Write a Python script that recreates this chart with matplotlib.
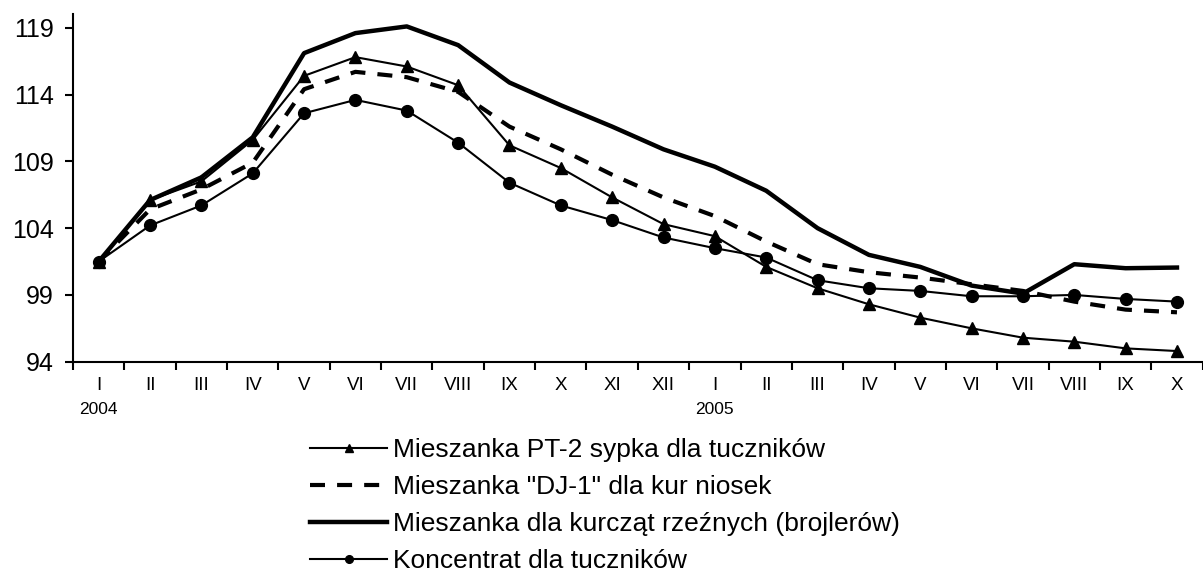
import matplotlib
matplotlib.use("Agg")
import matplotlib.pyplot as plt
import numpy as np

plt.rcParams['font.family'] = ['Liberation Sans', 'DejaVu Sans']

months = ["I", "II", "III", "IV", "V", "VI", "VII", "VIII", "IX", "X", "XI", "XII",
          "I", "II", "III", "IV", "V", "VI", "VII", "VIII", "IX", "X"]
years = {0: "2004", 12: "2005"}

pt2 = [101.5, 106.1, 107.5, 110.6, 115.4, 116.8, 116.1, 114.7, 110.2, 108.5, 106.3,
       104.3, 103.4, 101.1, 99.5, 98.3, 97.3, 96.5, 95.8, 95.5, 95.0, 94.8]
dj1 = [101.5, 105.4, 106.9, 108.9, 114.4, 115.7, 115.3, 114.2, 111.6, 109.9, 108.0,
       106.3, 104.9, 103.0, 101.3, 100.7, 100.3, 99.8, 99.3, 98.5, 97.9, 97.7]
broiler = [101.5, 106.1, 107.8, 110.8, 117.1, 118.6, 119.1, 117.7, 114.9, 113.2, 111.6,
           109.9, 108.6, 106.8, 104.0, 102.0, 101.1, 99.7, 99.1, 101.3, 101.0, 101.05]
koncentrat = [101.5, 104.2, 105.7, 108.1, 112.6, 113.6, 112.8, 110.4, 107.4, 105.7, 104.6,
              103.3, 102.5, 101.8, 100.1, 99.5, 99.3, 98.9, 98.9, 99.0, 98.7, 98.5]

labels = ['Mieszanka PT-2 sypka dla tuczników',
          'Mieszanka "DJ-1" dla kur niosek',
          'Mieszanka dla kurcząt rzeźnych (brojlerów)',
          'Koncentrat dla tuczników']

x = np.arange(len(months))

fig = plt.figure(figsize=(12.03, 5.76), dpi=100)
ax = fig.add_axes([0.0607, 0.372, 0.939, 0.603])

ax.plot(x, pt2, color='black', lw=1.5, marker='^', markersize=8.5, label=labels[0])
ax.plot(x, dj1, color='black', lw=3, linestyle=(0, (3.6, 2.9)), label=labels[1])
ax.plot(x, broiler, color='black', lw=3.2, label=labels[2])
ax.plot(x, koncentrat, color='black', lw=1.5, marker='o', markersize=8.5, label=labels[3])

ax.set_xlim(-0.5, len(months) - 0.5)
ax.set_ylim(94, 120)
ax.set_yticks([94, 99, 104, 109, 114, 119])
ax.tick_params(axis='y', labelsize=18, length=6, width=1.5, direction='out', pad=8)

ax.set_xticks(x)
ax.set_xticklabels(months, fontsize=13.5)
ax.tick_params(axis='x', which='major', length=0, pad=11)
ax.set_xticks(np.arange(len(months) + 1) - 0.5, minor=True)
ax.tick_params(axis='x', which='minor', length=6, width=1.5, direction='out')

for i, yr in years.items():
    ax.text(i, -0.137, yr, transform=ax.get_xaxis_transform(), ha='center', va='center',
            fontsize=12.5)

for s in ['top', 'right']:
    ax.spines[s].set_visible(False)
for s in ['left', 'bottom']:
    ax.spines[s].set_linewidth(1.5)

fig.legend(loc='upper left', bbox_to_anchor=(0.258, 0.24), frameon=False,
           fontsize=19, handlelength=2.9, handletextpad=0.22, labelspacing=0.5,
           borderpad=0, borderaxespad=0, markerscale=0.65)

fig.savefig('out.png', dpi=100)
